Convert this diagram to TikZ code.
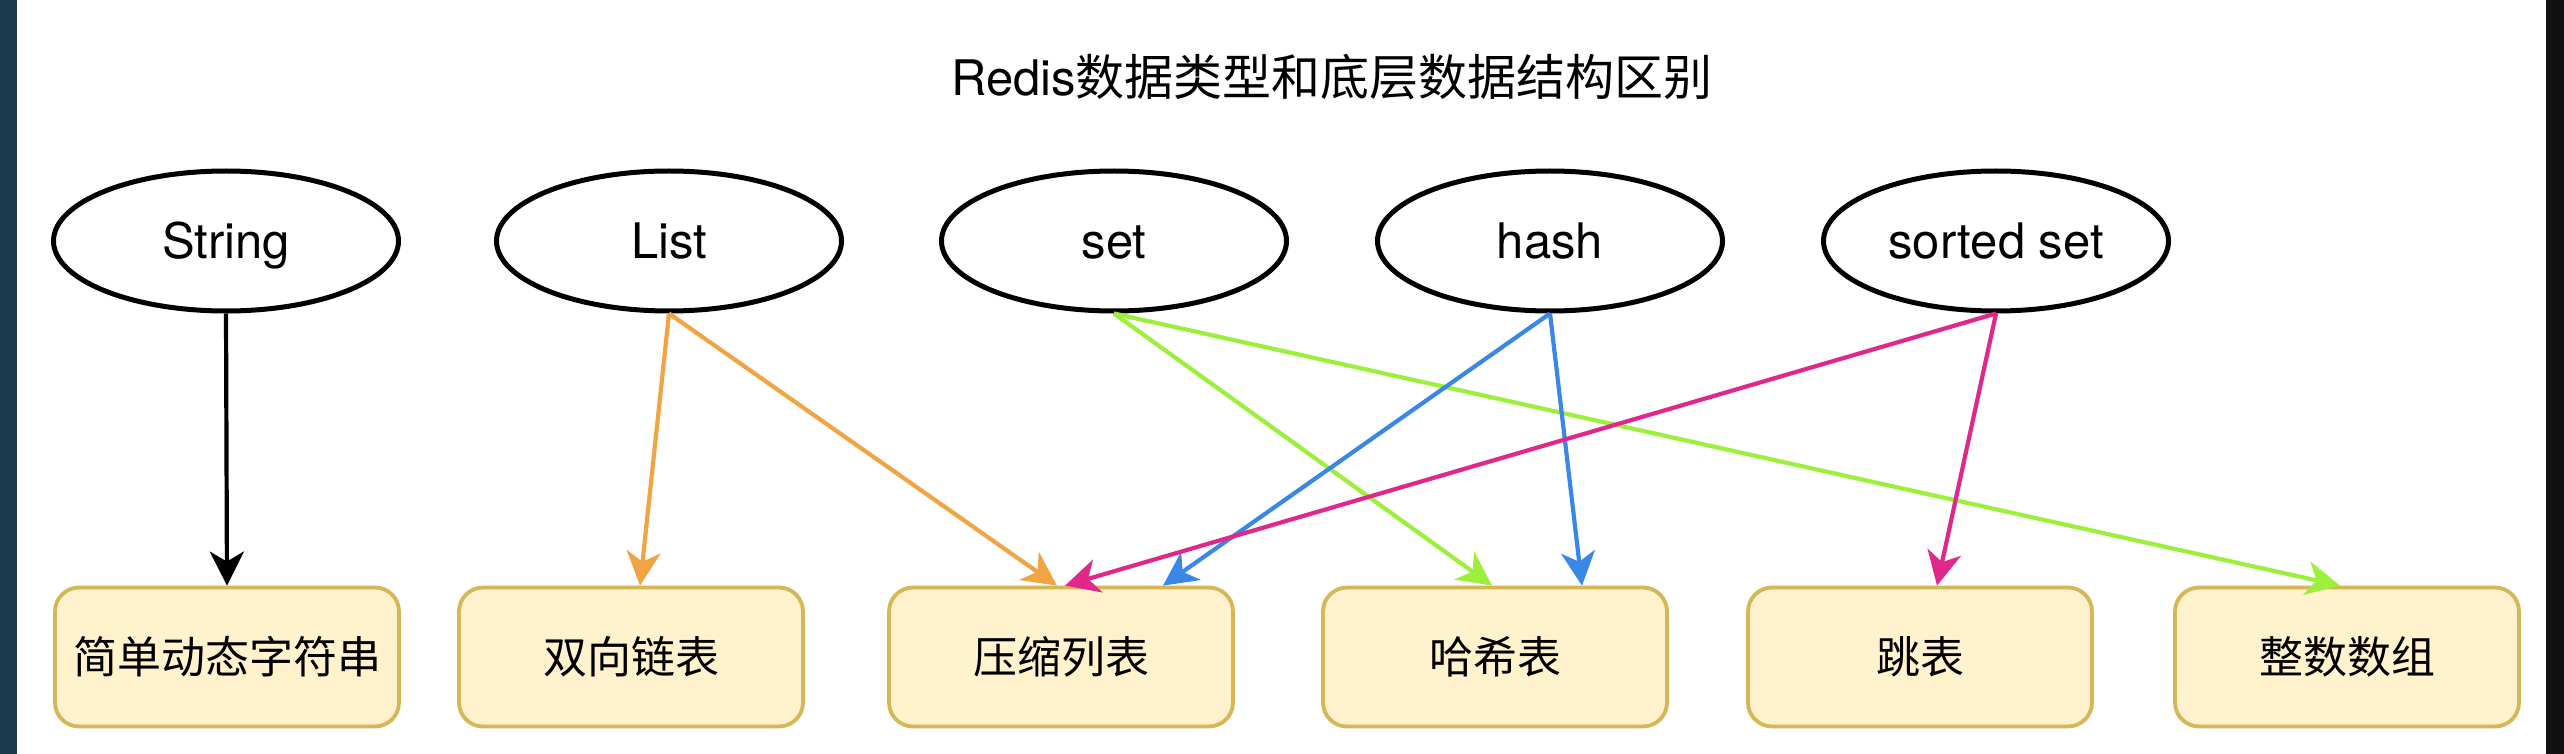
\documentclass[tikz,border=0pt]{standalone}
\usepackage{fontspec}
\setmainfont{TeX Gyre Heros}
\newfontfamily\cjk{Noto Sans CJK SC}
\usetikzlibrary{shapes.geometric,arrows.meta}
\definecolor{boxfill}{HTML}{FFF2CC}
\definecolor{boxdraw}{HTML}{D6B656}
\definecolor{corange}{HTML}{F0A444}
\definecolor{cgreen}{HTML}{9CF03C}
\definecolor{cblue}{HTML}{3A87E6}
\definecolor{cmag}{HTML}{E0288A}
\definecolor{edgeL}{HTML}{1B3A4E}
\definecolor{edgeR}{HTML}{111111}
\begin{document}
\begin{tikzpicture}[x=0.5pt,y=-0.5pt,
 typenode/.style={ellipse,draw=black,line width=2.5pt,minimum width=172.5pt,minimum height=70pt,inner sep=0pt,text height=17.6pt,text depth=0pt,font=\fontsize{24.5pt}{28pt}\selectfont},
 structbox/.style={rectangle,rounded corners=12pt,draw=boxdraw,fill=boxfill,line width=1.9pt,minimum width=172pt,minimum height=69.5pt,inner sep=0pt,font=\cjk\fontsize{22pt}{26pt}\selectfont},
 link/.style={line width=2.1pt,-{Stealth[length=17pt,width=17pt,inset=5pt]}}]
\fill[white] (0,0) rectangle (2564,754);
\useasboundingbox (0,0) rectangle (2564,754);
\fill[edgeL] (0,0) rectangle (17,754);
\fill[edgeR] (2546,0) rectangle (2564,754);
\node[font=\fontsize{24.5pt}{28pt}\selectfont] (title) at (1332,77) {Redis{\cjk 数据类型和底层数据结构区别}};
\node[typenode] (string) at (226,241) {String};
\node[typenode] (list) at (669,241) {List};
\node[typenode] (set) at (1114,241) {set};
\node[typenode] (hash) at (1550,241) {hash};
\node[typenode] (zset) at (1996,241) {sorted set};
\node[structbox] (sds) at (227,657) {简单动态字符串};
\node[structbox] (linked) at (631,657) {双向链表};
\node[structbox] (ziplist) at (1061,657) {压缩列表};
\node[structbox] (hashtable) at (1495,657) {哈希表};
\node[structbox] (skiplist) at (1920,657) {跳表};
\node[structbox] (intset) at (2347,657) {整数数组};
\draw[link,color=black] (string.south) -- (sds.north);
\draw[link,color=corange] (list.south) -- ([xshift=4.5pt]linked.north);
\draw[link,color=corange] (list.south) -- ([xshift=-2pt]ziplist.north);
\draw[link,color=cgreen] (set.south) -- ([xshift=-1.5pt]hashtable.north);
\draw[link,color=cgreen] (set.south) -- ([xshift=-3.5pt]intset.north);
\draw[link,color=cblue] (hash.south) -- ([xshift=51pt]ziplist.north);
\draw[link,color=cblue] (hash.south) -- ([xshift=43.5pt]hashtable.north);
\draw[link,color=cmag] (zset.south) -- ([xshift=2pt]ziplist.north);
\draw[link,color=cmag] (zset.south) -- ([xshift=8.5pt]skiplist.north);
\end{tikzpicture}
\end{document}
